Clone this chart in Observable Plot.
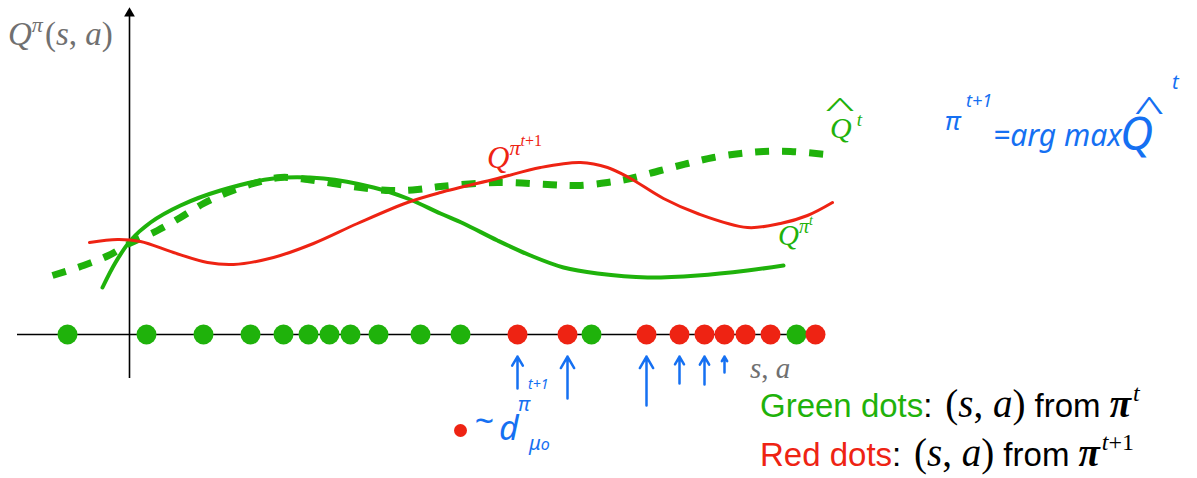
<!DOCTYPE html>
<html>
<head>
<meta charset="utf-8">
<script src="https://cdn.jsdelivr.net/npm/d3@7"></script>
<script src="https://cdn.jsdelivr.net/npm/@observablehq/plot@0.6"></script>
<style>
  html, body { margin: 0; padding: 0; background: #fff; }
  #chart { width: 1197px; height: 478px; }
</style>
</head>
<body>
<div id="chart"></div>
<script>
const GREEN = "#1fb20b", RED = "#ee2313", BLUE = "#1570f2", GRAY = "#707070";

// Q^{π^t}: true value of the current policy, [state-action position, value]
const qPiT = [
  [-0.27, 0.47], [-0.14, 0.72], [0.01, 0.94], [0.21, 1.12], [0.51, 1.29],
  [0.91, 1.44], [1.44, 1.56], [1.94, 1.56], [2.44, 1.47], [2.78, 1.36],
  [3.11, 1.21], [3.34, 1.11], [3.68, 0.94], [4.01, 0.79], [4.34, 0.67],
  [4.68, 0.61], [5.18, 0.57], [5.68, 0.59], [6.18, 0.64], [6.54, 0.69]
];

// Q-hat^t: fitted estimate of Q^{π^t}
const qHatT = [
  [-0.77, 0.59], [-0.46, 0.69], [-0.21, 0.79], [0.00, 0.91], [0.28, 1.04],
  [0.51, 1.17], [0.74, 1.31], [0.98, 1.42], [1.24, 1.51], [1.51, 1.57],
  [1.78, 1.55], [2.04, 1.51], [2.31, 1.47], [2.61, 1.44], [2.88, 1.45],
  [3.11, 1.48], [3.68, 1.52], [4.18, 1.50], [4.48, 1.49], [4.78, 1.52],
  [5.01, 1.56], [5.31, 1.64], [5.58, 1.71], [5.84, 1.77], [6.11, 1.81],
  [6.34, 1.83], [6.61, 1.83], [6.97, 1.80]
];

// Q^{π^{t+1}}: value of the greedy next policy
const qPiT1 = [
  [-0.40, 0.92], [-0.12, 0.95], [0.11, 0.93], [0.44, 0.82], [0.78, 0.72],
  [1.04, 0.70], [1.44, 0.77], [1.84, 0.91], [2.28, 1.11], [2.78, 1.32],
  [3.11, 1.42], [3.68, 1.56], [4.11, 1.67], [4.51, 1.72], [4.78, 1.67],
  [5.01, 1.56], [5.34, 1.36], [5.68, 1.21], [6.18, 1.07], [6.51, 1.11],
  [6.78, 1.19], [7.03, 1.32]
];

// sampled (s, a) positions along the axis
const greenDots = [-0.62, 0.17, 0.74, 1.21, 1.54, 1.79, 2.00, 2.21, 2.49, 2.91, 3.31, 4.62, 6.67];
const redDots = [3.88, 4.38, 5.17, 5.50, 5.75, 5.95, 6.16, 6.41, 6.86];

// hand-drawn arrows pointing up at the first red dots: x and tail height
const handArrows = [
  {x: 3.88, from: -0.54}, {x: 4.38, from: -0.64}, {x: 5.17, from: -0.71},
  {x: 5.50, from: -0.49}, {x: 5.75, from: -0.50}, {x: 5.95, from: -0.38}
];
const inkBlob = [[3.31, -0.96]];

const chart = Plot.plot({
  width: 1197,
  height: 478,
  margin: 0,
  style: {background: "#fff", overflow: "visible"},
  x: {domain: [-1.29, 10.68], axis: null},
  y: {domain: [-1.44, 3.34], axis: null},
  marks: [
    // axes
    Plot.ruleY([0], {x1: -1.12, x2: 6.9, stroke: "#000", strokeWidth: 1.6}),
    Plot.ruleX([0], {y1: -0.44, y2: 3.2, stroke: "#000", strokeWidth: 1.6}),
    Plot.dot([[0, 3.21]], {symbol: "triangle", r: 4, fill: "#000"}),
    // curves
    Plot.line(qPiT, {curve: "catmull-rom", stroke: GREEN, strokeWidth: 4}),
    Plot.line(qHatT, {curve: "catmull-rom", stroke: GREEN, strokeWidth: 7, strokeDasharray: "14,13", strokeLinecap: "butt"}),
    Plot.line(qPiT1, {curve: "catmull-rom", stroke: RED, strokeWidth: 3}),
    // samples
    Plot.dot(greenDots, {x: d => d, y: () => 0, r: 10, fill: GREEN}),
    Plot.dot(redDots, {x: d => d, y: () => 0, r: 10, fill: RED}),
    // ink annotations
    Plot.arrow(handArrows, {x1: d => d.x, y1: d => d.from, x2: d => d.x, y2: () => -0.22,
      stroke: BLUE, strokeWidth: 2.5, headLength: 8}),
    Plot.dot(inkBlob, {r: 6.5, fill: RED})
  ]
});
document.getElementById("chart").appendChild(chart);

const xs = chart.scale("x"), ys = chart.scale("y");
const serif = "'Liberation Serif', 'Times New Roman', serif";
const sans = "'Liberation Sans', Arial, sans-serif";
const hand = "'Noto Sans', 'DejaVu Sans', sans-serif";

const it = (t, size, extra = {}) => ({t, size, family: serif, style: "italic", ...extra});
const up = (t, size, extra = {}) => ({t, size, family: serif, style: "normal", ...extra});
const sn = (t, size, extra = {}) => ({t, size, family: sans, style: "normal", ...extra});
const hw = (t, size, extra = {}) => ({t, size, family: hand, style: "italic", ...extra});

// labels anchored at data positions (left edge, baseline)
const labels = [
  {x: -1.21, y: 2.89, fill: GRAY, parts: [
    it("Q", 33), it("π", 22, {dy: -13}), up("(", 33, {dy: 13, dx: 2}), it("s", 33), up(", ", 33), it("a", 33), up(")", 33)]},
  {x: 6.21, y: -0.44, fill: GRAY, parts: [it("s", 29), up(", ", 29), it("a", 29)]},
  {x: 3.58, y: 1.66, fill: RED, parts: [it("Q", 31), it("π", 22, {dy: -13}), it("t", 16, {dy: -9}), up("+1", 16)]},
  {x: 6.49, y: 0.89, fill: GREEN, parts: [it("Q", 29), it("π", 20, {dy: -12}), it("t", 14, {dy: -8})]},
  {x: 7.01, y: 1.96, fill: GREEN, parts: [it("Q", 30), it("t", 19, {dy: -12, dx: 5})]},
  // legend
  {x: 6.31, y: -0.83, fill: "#000", parts: [
    sn("Green dots", 33, {fill: GREEN}), sn(":", 33), up(" (", 39, {dx: 3}), it("s", 39), up(", ", 39), it("a", 39), up(")", 39),
    sn(" from ", 33), it("π", 39, {weight: "bold"}), it("t", 24, {dy: -16, dx: 2})]},
  {x: 6.31, y: -1.32, fill: "#000", parts: [
    sn("Red dots", 33, {fill: RED}), sn(":", 33), up(" (", 39, {dx: 3}), it("s", 39), up(", ", 39), it("a", 39), up(")", 39),
    sn(" from ", 33), it("π", 39, {weight: "bold"}), it("t", 24, {dy: -16, dx: 2}), up("+1", 24)]},
  // handwritten notes
  {x: 8.16, y: 2.04, fill: BLUE, parts: [hw("π", 26)]},
  {x: 8.37, y: 2.27, fill: BLUE, parts: [hw("t+1", 18)]},
  {x: 8.64, y: 1.88, fill: BLUE, parts: [hw("=arg max", 30)]},
  {x: 9.91, y: 1.84, fill: BLUE, parts: [hw("Q", 46)]},
  {x: 10.43, y: 2.45, fill: BLUE, parts: [hw("t", 20)]},
  {x: 3.45, y: -0.99, fill: BLUE, parts: [hw("~", 34)]},
  {x: 3.70, y: -1.06, fill: BLUE, parts: [hw("d", 34)]},
  {x: 3.89, y: -0.77, fill: BLUE, parts: [hw("π", 20)]},
  {x: 3.99, y: -0.55, fill: BLUE, parts: [hw("t+1", 14)]},
  {x: 4.00, y: -1.16, fill: BLUE, parts: [hw("μ", 20), hw("o", 16)]}
];

// hats drawn over Q (centre x, baseline)
const hats = [
  {x: 7.11, y: 2.18, fill: GREEN, size: 28, sx: 2.2},
  {x: 10.2, y: 2.13, fill: BLUE, size: 36, sx: 1.7}
];

const svg = d3.select(chart);
const g = svg.append("g").attr("text-anchor", "start");
for (const lab of labels) {
  const text = g.append("text")
    .attr("x", xs.apply(lab.x)).attr("y", ys.apply(lab.y))
    .attr("text-anchor", "start")
    .attr("fill", lab.fill)
    .attr("xml:space", "preserve");
  for (const p of lab.parts) {
    const ts = text.append("tspan")
      .text(p.t)
      .attr("font-size", p.size)
      .attr("font-family", p.family)
      .attr("font-style", p.style)
      .attr("font-weight", p.weight || "normal")
      .style("white-space", "pre");
    if (p.dy) ts.attr("dy", p.dy);
    if (p.dx) ts.attr("dx", p.dx);
    if (p.fill) ts.attr("fill", p.fill);
  }
}
for (const h of hats) {
  const cx = xs.apply(h.x), cy = ys.apply(h.y);
  g.append("text")
    .attr("transform", `translate(${cx},${cy}) scale(${h.sx},1)`)
    .attr("text-anchor", "middle")
    .attr("font-family", serif)
    .attr("font-size", h.size)
    .attr("fill", h.fill)
    .text("^");
}
</script>
</body>
</html>
